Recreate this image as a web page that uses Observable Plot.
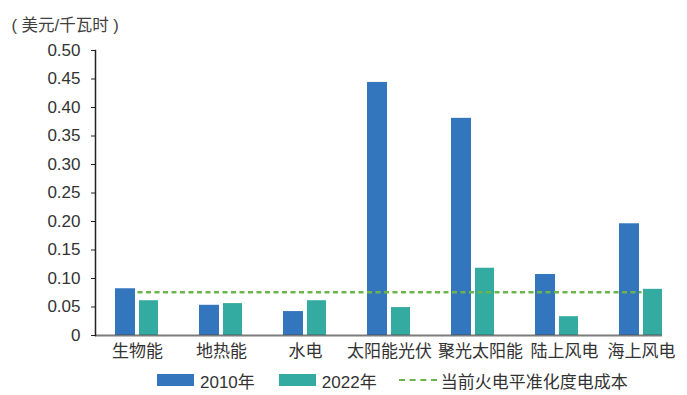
<!DOCTYPE html>
<html><head><meta charset="utf-8">
<script src="https://cdn.jsdelivr.net/npm/d3@7"></script>
<script src="https://cdn.jsdelivr.net/npm/@observablehq/plot@0.6"></script>
<style>
body{margin:0;background:#fff;font-family:"Liberation Sans","Noto Sans CJK SC",sans-serif;color:#333;}
#wrap{width:687px;height:395px;position:relative;overflow:hidden;}
#legend{display:flex;align-items:center;height:30px;padding-left:157px;font-size:17px;color:#333;}
.sw{width:37px;height:12px;margin-right:6px;}
.dash{width:38px;height:0;border-top:2.5px dashed #6cb54a;margin-right:4px;}
</style></head>
<body><div id="wrap"></div>
<script>
const categories = ["生物能","地热能","水电","太阳能光伏","聚光太阳能","陆上风电","海上风电"];
const cost2010 = [0.082,0.053,0.042,0.444,0.381,0.107,0.196];
const cost2022 = [0.061,0.056,0.061,0.049,0.118,0.033,0.081];
const fossilLcoe = 0.076;
const yTicks = [0,0.05,0.10,0.15,0.20,0.25,0.30,0.35,0.40,0.45,0.50];
const seriesNames = ["2010年","2022年"];
const lineName = "当前火电平准化度电成本";
const unitLabel = "( 美元/千瓦时 )";

const blue = "#3476bd", teal = "#33aba1", green = "#6cb54a";
const d10 = categories.map((c,i)=>({cat:c, v:cost2010[i]}));
const d22 = categories.map((c,i)=>({cat:c, v:cost2022[i]}));
const dl = categories.map(c=>({cat:c, v:fossilLcoe}));
// labels nudged right to avoid overlap (as in the original)
const nudged = [categories[4], categories[5]];
const centered = categories.filter(c => !nudged.includes(c));

const chart = Plot.plot({
  width: 687, height: 365,
  marginLeft: 95, marginRight: 4, marginTop: 50, marginBottom: 30,
  style: {fontFamily: '"Liberation Sans","Noto Sans CJK SC",sans-serif', color: "#333", background: "#fff"},
  x: {domain: categories, padding: 0, axis: null},
  y: {domain: [0, 0.5], axis: null},
  marks: [
    Plot.barY(d10, {x: "cat", y: "v", fill: blue, insetLeft: 20, insetRight: 44}),
    Plot.barY(d22, {x: "cat", y: "v", fill: teal, insetLeft: 44, insetRight: 21}),
    Plot.lineY(dl, {x: "cat", y: "v", stroke: green, strokeWidth: 2.5, strokeDasharray: "5,3.5", strokeLinecap: "butt"}),
    Plot.ruleY([0], {stroke: "#444", strokeOpacity: 0.7, strokeWidth: 2, insetRight: 21}),
    Plot.frame({anchor: "left", stroke: "#222", strokeWidth: 1.5}),
    Plot.axisY({ticks: yTicks, tickSize: 4, tickPadding: 11, label: null, fontSize: 17,
      tickFormat: d => d === 0 ? "0" : d.toFixed(2), stroke: "#222"}),
    Plot.axisX(centered, {tickSize: 0, tickPadding: 9, label: null, fontSize: 17}),
    Plot.axisX(nudged, {tickSize: 0, tickPadding: 9, label: null, fontSize: 17, dx: 7}),
    Plot.text([unitLabel], {frameAnchor: "top-left", dx: -84, dy: -31, textAnchor: "start", fontSize: 16.5, fill: "#404040"})
  ]
});
const wrap = document.getElementById("wrap");
wrap.appendChild(chart);
const lg = document.createElement("div");
lg.id = "legend";
lg.innerHTML = `<div class="sw" style="background:${blue}"></div><span style="margin-right:24px">${seriesNames[0]}</span>`+
  `<div class="sw" style="background:${teal}"></div><span style="margin-right:22px">${seriesNames[1]}</span>`+
  `<div class="dash"></div><span>${lineName}</span>`;
wrap.appendChild(lg);
</script></body></html>
